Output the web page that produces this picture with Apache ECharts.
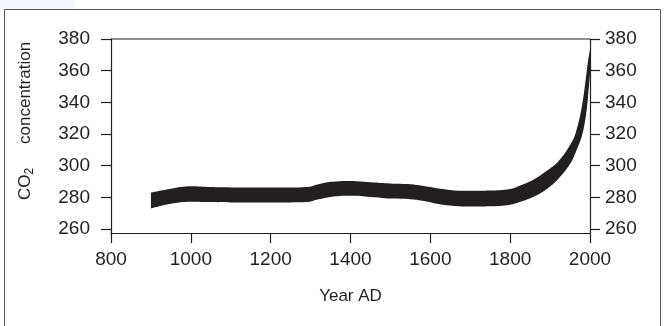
<!DOCTYPE html>
<html>
<head>
<meta charset="utf-8">
<script src="https://cdn.jsdelivr.net/npm/echarts@6/dist/echarts.min.js"></script>
<style>
html,body{margin:0;padding:0;background:#fff;}
#chart{width:664px;height:326px;}
</style>
</head>
<body>
<div id="chart"></div>
<script>
// Data
const years = [900, 950, 1000, 1050, 1100, 1150, 1200, 1250, 1290, 1320, 1350, 1400, 1450, 1500, 1550, 1580, 1620, 1660, 1700, 1750, 1800, 1830, 1860, 1890, 1920, 1950, 1965, 1980, 1990, 1995, 2000];
const lower = [273, 276, 277.3, 277, 276.8, 276.8, 276.8, 276.8, 277, 278.8, 280.3, 281, 280.3, 279.3, 278.8, 277.8, 275.8, 274.6, 274.2, 274.4, 275.4, 277.5, 280.5, 285, 291.5, 301, 309, 319, 332, 343, 358];
const upper = [283, 285.5, 287, 286.5, 286.3, 286.2, 286.2, 286.2, 286.5, 288.3, 289.8, 290.4, 289.6, 288.8, 288.3, 287.3, 285.6, 284.4, 284.1, 284.3, 285.3, 288, 291.5, 296.5, 302.5, 313, 321.5, 338, 356, 366, 373];
const yTicks = [260, 280, 300, 320, 340, 360, 380];
const xTicks = [800, 1000, 1200, 1400, 1600, 1800, 2000];

const ink = '#231f20';
const font = 'Liberation Sans, Arial, Helvetica, sans-serif';

const chart = echarts.init(document.getElementById('chart'));
const yAxisBase = (pos, margin) => ({
  type: 'value', position: pos, min: 257.5, max: 380, z: 5,
  axisLine: {show: true, lineStyle: {color: ink, width: 1.2}},
  axisTick: {show: true, inside: false, length: 10, customValues: yTicks, lineStyle: {color: ink, width: 1.2}},
  axisLabel: {show: true, margin: margin, customValues: yTicks, color: ink, fontSize: 19, fontFamily: font, formatter: v => String(v)},
  splitLine: {show: false}
});
// band = lower (invisible) + thickness stacked on it; data given as [value, year] so the value dimension is stacked
const lowerData = years.map((x, i) => [lower[i], x]);
const thickData = years.map((x, i) => [upper[i] - lower[i], x]);
chart.setOption({
  animation: false,
  backgroundColor: '#fff',
  grid: {left: 111, right: 74, top: 39, bottom: 93, show: false},
  xAxis: {
    type: 'value', min: 800, max: 2000, interval: 200, z: 5,
    name: 'Year AD', nameLocation: 'middle', nameGap: 55,
    nameTextStyle: {color: ink, fontSize: 17, fontFamily: font},
    axisLine: {show: true, lineStyle: {color: ink, width: 1.2}},
    axisTick: {show: true, inside: false, length: 10, lineStyle: {color: ink, width: 1.2}},
    axisLabel: {margin: 17, color: ink, fontSize: 19, fontFamily: font, customValues: xTicks, formatter: v => String(v)},
    splitLine: {show: false}
  },
  yAxis: [yAxisBase('left', 21), yAxisBase('right', 15)],
  graphic: [
    {type: 'rect', shape: {x: 0, y: 0, width: 75, height: 9}, style: {fill: '#f4f8fd'}, silent: true},
    {type: 'rect', shape: {x: 4.5, y: 9.5, width: 656, height: 400}, style: {fill: 'none', stroke: '#555', lineWidth: 1}, silent: true},
    {type: 'line', shape: {x1: 111, y1: 39, x2: 590, y2: 39}, style: {stroke: ink, lineWidth: 1.2}, silent: true, z: 10},
    {
      type: 'text', x: 25, y: 121, rotation: Math.PI / 2,
      style: {
        text: '{a|CO}{s|2}{g|}{a|concentration}',
        align: 'center', verticalAlign: 'middle', fill: ink, font: '17px ' + font,
        rich: {
          a: {fontSize: 17, fontFamily: font, fill: ink, lineHeight: 22, verticalAlign: 'middle'},
          s: {fontSize: 12, fontFamily: font, fill: ink, lineHeight: 22, verticalAlign: 'bottom'},
          g: {width: 24}
        }
      }
    }
  ],
  series: [
    {
      name: 'lower', type: 'line', stack: 'band', smooth: 0.4, symbol: 'none', z: 1,
      encode: {x: 1, y: 0},
      data: lowerData,
      lineStyle: {width: 0, opacity: 0}, silent: true
    },
    {
      name: 'band', type: 'line', stack: 'band', smooth: 0.4, symbol: 'none', z: 1,
      encode: {x: 1, y: 0},
      data: thickData,
      lineStyle: {width: 0, opacity: 0}, areaStyle: {color: ink, opacity: 1}, silent: true
    }
  ]
});
</script>
</body>
</html>
